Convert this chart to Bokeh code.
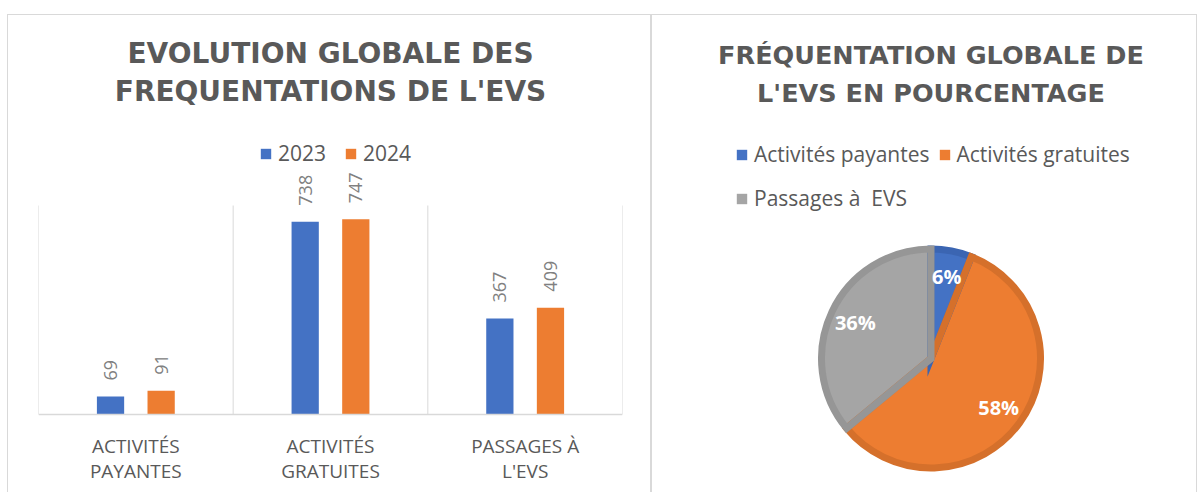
import math
from bokeh.plotting import figure
from bokeh.models import ColumnDataSource, FactorRange, Range1d, Legend, LegendItem, Title, Span
from bokeh.transform import dodge
from bokeh.layouts import row
from bokeh.core.properties import value
from bokeh.embed import file_html
from bokeh.resources import INLINE

# ---------------- data ----------------
categories = ["Activités payantes", "Activités gratuites", "Passages à l'EVS"]
axis_labels = ["ACTIVITÉS\nPAYANTES", "ACTIVITÉS\nGRATUITES", "PASSAGES À\nL'EVS"]
years = ["2023", "2024"]
values_2023 = [69, 738, 367]
values_2024 = [91, 747, 409]
axis_max = 800

pie_labels = ["Activités payantes", "Activités gratuites", "Passages à  EVS"]
pie_values = [6, 58, 36]

bar_title = ["EVOLUTION GLOBALE DES", "FREQUENTATIONS DE L'EVS"]
pie_title = ["FRÉQUENTATION GLOBALE DE", "L'EVS EN POURCENTAGE"]

# ---------------- styles ----------------
BLUE, ORANGE, GRAY = "#4472C4", "#ED7D31", "#A5A5A5"
BLUE_EDGE, ORANGE_EDGE, GRAY_EDGE = "#3B65B2", "#D5702B", "#969696"
TXT = "#595959"
GRID = "#D9D9D9"
EDGE = "1px solid #D9D9D9"
PANEL = {"border-top": EDGE, "border-left": EDGE, "border-right": EDGE}

FIG_H = 478
TOP_BORDER = 93
PX_PER_UNIT = 0.26125          # bar chart: pixels per value unit
BASE_ABOVE_BOTTOM = 79         # baseline distance above frame bottom (px)
FRAME_H = FIG_H - TOP_BORDER


def add_title(p, lines, size, standoffs):
    # title panels stack outward from the frame: add the last line first
    for line, so in reversed(list(zip(lines, standoffs))):
        t = Title(text=line, align="center", text_font="DejaVu Sans",
                  text_font_style="bold", text_font_size=size, text_color=TXT,
                  standoff=so)
        p.add_layout(t, "above")


# ================= left: clustered bars =================
line1 = [s.split("\n")[0] for s in axis_labels]
line2 = [s.split("\n")[1] for s in axis_labels]
src = ColumnDataSource(dict(
    cat=categories,
    v2023=values_2023,
    v2024=values_2024,
    t2023=[str(v) for v in values_2023],
    t2024=[str(v) for v in values_2024],
    l1=line1, l2=line2,
))

p1 = figure(
    width=644, height=FIG_H,
    x_range=FactorRange(*categories, range_padding=0),
    y_range=Range1d(-BASE_ABOVE_BOTTOM / PX_PER_UNIT,
                    (FRAME_H - BASE_ABOVE_BOTTOM) / PX_PER_UNIT),
    output_backend="svg", toolbar_location=None,
    x_axis_location=None, y_axis_location=None,
    min_border_left=30, min_border_right=30,
    min_border_top=TOP_BORDER, min_border_bottom=0,
    margin=(14, 0, 0, 7), styles=PANEL,
)
p1.title.visible = False
p1.outline_line_color = None
p1.xgrid.visible = False
p1.ygrid.visible = False
add_title(p1, bar_title, "28px", [4, 2])

# category separators up to the axis maximum, and the baseline
grid_x = list(range(len(categories) + 1))
p1.segment(x0=grid_x, y0=[0] * len(grid_x), x1=grid_x, y1=[axis_max] * len(grid_x),
           line_color=GRID, line_width=1)
p1.add_layout(Span(location=0, dimension="width", line_color=GRID, line_width=1.5))

off = 0.13
bw = 0.14
p1.vbar(x=dodge("cat", -off, range=p1.x_range), top="v2023", width=bw, source=src,
        fill_color=BLUE, line_color=None, legend_label=years[0])
p1.vbar(x=dodge("cat", off, range=p1.x_range), top="v2024", width=bw, source=src,
        fill_color=ORANGE, line_color=None, legend_label=years[1])

for col, tcol, dx in (("v2023", "t2023", -off), ("v2024", "t2024", off)):
    p1.text(x=dodge("cat", dx, range=p1.x_range), y=col, text=tcol, source=src,
            angle=math.pi / 2, text_align="left", text_baseline="middle",
            y_offset=-16, text_font=value("Open Sans"), text_font_size="18px",
            text_color="#808080")

# category labels (two lines each) under the baseline
for tcol, yo in (("l1", 31), ("l2", 56)):
    p1.text(x="cat", y=0, text=tcol, source=src, y_offset=yo,
            text_align="center", text_baseline="middle",
            text_font=value("Open Sans"), text_font_size="19px", text_color=TXT)

lg = p1.legend[0]
lg.orientation = "horizontal"
lg.location = (221, 326)
lg.border_line_color = None
lg.background_fill_alpha = 0
lg.padding = 0
lg.margin = 0
lg.spacing = 18
lg.glyph_width = 13
lg.glyph_height = 13
lg.label_standoff = 6
lg.label_text_font = "Open Sans"
lg.label_text_font_size = "21px"
lg.label_text_color = TXT

# ================= right: pie =================
R_PX = 113
P2_W = 546
P2_LEFT = 11
FRAME_W = P2_W - P2_LEFT
CX, CY_FROM_BOTTOM = 267.5, 135

total = float(sum(pie_values))
starts, ends, lx, ly, lbl = [], [], [], [], []
acc = 0.0
for v in pie_values:
    a0 = acc / total * 2 * math.pi
    a1 = (acc + v) / total * 2 * math.pi
    starts.append(math.pi / 2 - a0)
    ends.append(math.pi / 2 - a1)
    mid = (a0 + a1) / 2
    lx.append(0.74 * math.sin(mid))
    ly.append(0.74 * math.cos(mid))
    lbl.append(f"{v}%")
    acc += v

psrc = ColumnDataSource(dict(
    start=starts, end=ends, color=[BLUE, ORANGE, GRAY],
    edge=[BLUE_EDGE, ORANGE_EDGE, GRAY_EDGE], name=pie_labels,
    lx=lx, ly=ly, lbl=lbl,
))

p2 = figure(
    width=P2_W, height=FIG_H,
    x_range=Range1d(-CX / R_PX, (FRAME_W - CX) / R_PX),
    y_range=Range1d(-CY_FROM_BOTTOM / R_PX, (FRAME_H - CY_FROM_BOTTOM) / R_PX),
    output_backend="svg", toolbar_location=None,
    x_axis_location=None, y_axis_location=None,
    min_border_left=P2_LEFT, min_border_right=0,
    min_border_top=TOP_BORDER, min_border_bottom=0,
    margin=(14, 0, 0, 0), styles=PANEL,
)
p2.title.visible = False
p2.outline_line_color = None
p2.xgrid.visible = False
p2.ygrid.visible = False
add_title(p2, pie_title, "25.5px", [9, 2])

r_inner = 1 - 3.5 / R_PX
base = p2.wedge(x=0, y=0, radius=r_inner, start_angle="start", end_angle="end",
                direction="clock", fill_color="color", line_color=None, source=psrc)
p2.wedge(x=0, y=0, radius=r_inner, start_angle="start", end_angle="end",
         direction="clock", fill_color=None, line_color="edge", line_width=7,
         line_join="miter", source=psrc)
p2.text(x="lx", y="ly", text="lbl", source=psrc, text_align="center",
        text_baseline="middle", text_font=value("Open Sans"), text_font_size="20px",
        text_font_style="bold", text_color="white")


def make_legend(idx, loc):
    L = Legend(items=[LegendItem(label=pie_labels[i], renderers=[base], index=i) for i in idx],
               orientation="horizontal", location=loc)
    L.border_line_color = None
    L.background_fill_alpha = 0
    L.padding = 0
    L.margin = 0
    L.spacing = 8
    L.glyph_width = 13
    L.glyph_height = 13
    L.label_standoff = 6
    L.label_text_font = "Open Sans"
    L.label_text_font_size = "21px"
    L.label_text_color = TXT
    return L


p2.add_layout(make_legend([0, 1], (72, 325)))
p2.add_layout(make_legend([2], (72, 281)))

layout = row(p1, p2)
open("out.html", "w").write(file_html(layout, INLINE))
